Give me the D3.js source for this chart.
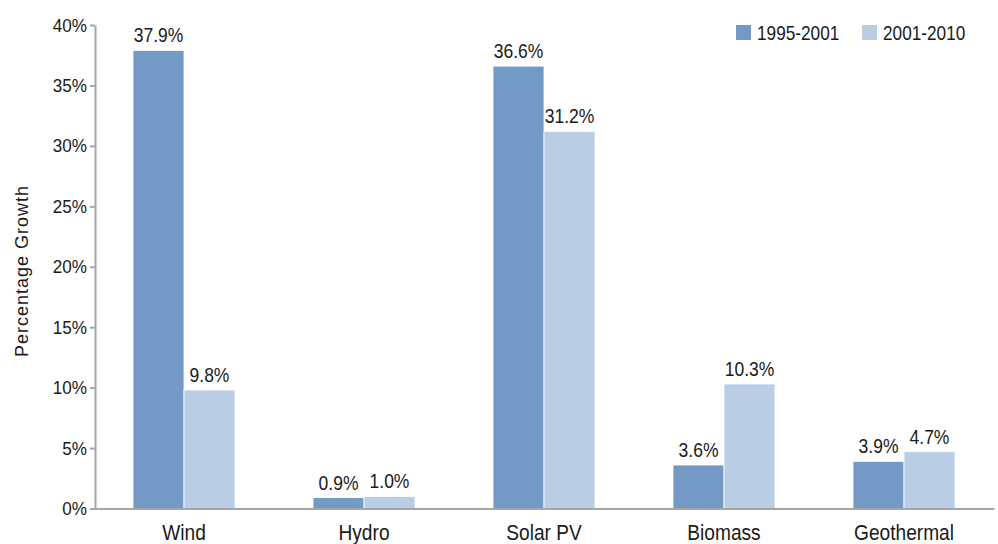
<!DOCTYPE html>
<html>
<head>
<meta charset="utf-8">
<script src="https://cdn.jsdelivr.net/npm/d3@7/dist/d3.min.js"></script>
<style>
  html, body { margin: 0; padding: 0; background: #fff; }
  svg { display: block; }
  .cond { font-family: "Liberation Sans", Arial, sans-serif; fill: #1a1a1a; }
</style>
</head>
<body>
<svg id="chart" width="998" height="544"></svg>
<script>
// Average annual growth in renewable capacity, by source and period
const categories = ["Wind", "Hydro", "Solar PV", "Biomass", "Geothermal"];
const seriesNames = ["1995-2001", "2001-2010"];
const growth1995to2001 = [37.9, 0.9, 36.6, 3.6, 3.9];
const growth2001to2010 = [9.8, 1.0, 31.2, 10.3, 4.7];
const yTicks = [0, 5, 10, 15, 20, 25, 30, 35, 40];
const seriesColors = ["#7399c6", "#b9cde5"];

const seriesValues = [growth1995to2001, growth2001to2010];
const rows = categories.map((c, i) => ({
  category: c,
  values: seriesNames.map((s, j) => ({ series: s, value: seriesValues[j][i] }))
}));

// Squeeze text horizontally to get a condensed face from the regular one
function condense(sel, sx) {
  sel.each(function () {
    const t = d3.select(this);
    const x = +t.attr("x") || 0, yy = +t.attr("y") || 0;
    t.attr("x", 0).attr("y", 0)
      .attr("transform", `translate(${x},${yy}) scale(${sx},1)`);
  });
}

const svg = d3.select("#chart");
const axisColor = "#a6a6a6";

const x0 = d3.scaleBand().domain(categories).range([94, 994]);
const x1 = d3.scaleBand().domain(seriesNames).range([0, x0.bandwidth()]).paddingOuter(0.765);
const y = d3.scaleLinear().domain([0, 40]).range([508.5, 25]);
const color = d3.scaleOrdinal().domain(seriesNames).range(seriesColors);

// Bars
const groups = svg.append("g").selectAll("g")
  .data(rows).join("g")
  .attr("transform", d => `translate(${x0(d.category)},0)`);

groups.selectAll("rect")
  .data(d => d.values).join("rect")
  .attr("x", d => x1(d.series))
  .attr("y", d => y(d.value))
  .attr("width", x1.bandwidth())
  .attr("height", d => y(0) - y(d.value))
  .attr("fill", d => color(d.series))
  .attr("stroke", "#fff")
  .attr("stroke-width", 0.8);

// Value labels
groups.selectAll("text")
  .data(d => d.values).join("text")
  .attr("class", "cond")
  .attr("x", d => x1(d.series) + x1.bandwidth() / 2)
  .attr("y", d => y(d.value) - 8)
  .attr("text-anchor", "middle")
  .style("font-size", "20px")
  .text(d => d.value.toFixed(1) + "%")
  .call(condense, 0.875);

// Y axis
const yAxis = svg.append("g")
  .attr("transform", "translate(95,0)")
  .call(d3.axisLeft(y).tickValues(yTicks).tickFormat(d => d + "%").tickSize(5).tickSizeOuter(0).tickPadding(3));
yAxis.select(".domain").attr("stroke", axisColor).attr("stroke-width", 2);
yAxis.selectAll(".tick line").attr("stroke", axisColor).attr("stroke-width", 2);
yAxis.selectAll(".tick text")
  .attr("class", "cond").style("font-size", "19px").attr("fill", "#1a1a1a")
  .call(condense, 0.9);

// X axis (baseline + category labels)
const xAxis = svg.append("g")
  .attr("transform", `translate(0,${y(0)})`)
  .call(d3.axisBottom(x0).tickSize(0).tickSizeOuter(0));
xAxis.select(".domain").attr("stroke", axisColor).attr("stroke-width", 2);
xAxis.selectAll(".tick text")
  .attr("class", "cond").style("font-size", "22px").attr("fill", "#1a1a1a")
  .attr("y", 540 - y(0)).attr("dy", 0)
  .call(condense, 0.87);

// Axis title
svg.append("text")
  .attr("transform", "translate(27.5,271) rotate(-90)")
  .attr("text-anchor", "middle")
  .style("font-family", "'Liberation Sans', Arial, sans-serif")
  .style("font-size", "18px")
  .style("letter-spacing", "1px")
  .attr("fill", "#1a1a1a")
  .text("Percentage Growth");

// Legend
const legendX = [736, 862];
const legend = svg.append("g").selectAll("g")
  .data(seriesNames).join("g")
  .attr("transform", (d, i) => `translate(${legendX[i]},25)`);
legend.append("rect").attr("width", 15).attr("height", 15).attr("fill", d => color(d));
legend.append("text")
  .attr("class", "cond")
  .attr("x", 21)
  .attr("y", 15)
  .style("font-size", "21px")
  .text(d => d)
  .call(condense, 0.82);
</script>
</body>
</html>
